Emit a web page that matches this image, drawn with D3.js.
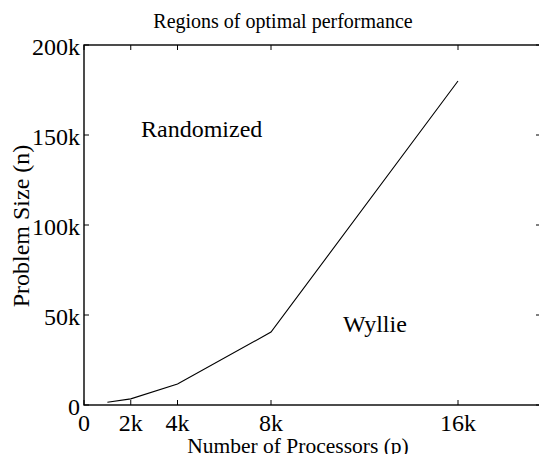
<!DOCTYPE html>
<html>
<head>
<meta charset="utf-8">
<script src="https://cdn.jsdelivr.net/npm/d3@7"></script>
<style>
  html, body { margin: 0; padding: 0; background: #fff; }
  svg { display: block; }
  text { font-family: "Liberation Serif", "Times New Roman", serif; fill: #000; }
</style>
</head>
<body>
<svg id="chart" width="539" height="454"></svg>
<script>
// Boundary between the two algorithms' regions of optimal performance
const processors = [1000, 2000, 4000, 8000, 16000];
const problemSize = [1500, 3400, 11700, 40500, 180000];

const xTickValues = [0, 2000, 4000, 8000, 16000];
const xTickLabels = ["0", "2k", "4k", "8k", "16k"];
const yTickValues = [0, 50000, 100000, 150000, 200000];
const yTickLabels = ["0", "50k", "100k", "150k", "200k"];

const titleText = "Regions of optimal performance";
const xLabelText = "Number of Processors (p)";
const yLabelText = "Problem Size (n)";
const regionLabels = [
  { text: "Randomized", p: 2440, n: 149000 },
  { text: "Wyllie", p: 11080, n: 40500 }
];

// Layout
const marginLeft = 84, marginTop = 45;
const plotW = 457, plotH = 360;
const tickLen = 5;

const svg = d3.select("#chart");
const g = svg.append("g").attr("transform", `translate(${marginLeft},${marginTop})`);

const x = d3.scaleLinear().domain([0, 16000]).range([0, 374]);
const y = d3.scaleLinear().domain([0, 200000]).range([plotH, 0]);

// Frame
g.append("rect")
  .attr("x", 0).attr("y", 0).attr("width", plotW).attr("height", plotH)
  .attr("fill", "none").attr("stroke", "#000").attr("stroke-width", 1.4);

// Inward ticks on all four sides
const tickG = g.append("g").attr("stroke", "#000").attr("stroke-width", 1);
xTickValues.forEach(v => {
  tickG.append("line").attr("x1", x(v)).attr("x2", x(v)).attr("y1", plotH).attr("y2", plotH - tickLen);
  tickG.append("line").attr("x1", x(v)).attr("x2", x(v)).attr("y1", 0).attr("y2", tickLen);
});
yTickValues.forEach(v => {
  tickG.append("line").attr("x1", 0).attr("x2", tickLen).attr("y1", y(v)).attr("y2", y(v));
  tickG.append("line").attr("x1", plotW).attr("x2", plotW - tickLen).attr("y1", y(v)).attr("y2", y(v));
});

// Tick labels
g.append("g").selectAll("text").data(xTickValues).join("text")
  .attr("x", d => x(d)).attr("y", plotH + 26)
  .attr("text-anchor", "middle").attr("font-size", 24)
  .text((d, i) => xTickLabels[i]);

g.append("g").selectAll("text").data(yTickValues).join("text")
  .attr("x", -4).attr("y", d => y(d) + 10)
  .attr("text-anchor", "end").attr("font-size", 24)
  .text((d, i) => yTickLabels[i]);

// Boundary curve
const line = d3.line().x(d => x(d[0])).y(d => y(d[1]));
g.append("path")
  .datum(processors.map((p, i) => [p, problemSize[i]]))
  .attr("d", line)
  .attr("fill", "none").attr("stroke", "#000").attr("stroke-width", 1.1);

// Region annotations
g.append("g").selectAll("text").data(regionLabels).join("text")
  .attr("x", d => x(d.p)).attr("y", d => y(d.n))
  .attr("font-size", 24)
  .text(d => d.text);

// Title and axis labels
svg.append("text")
  .attr("x", 283).attr("y", 28)
  .attr("text-anchor", "middle").attr("font-size", 20)
  .text(titleText);

svg.append("text")
  .attr("x", 298).attr("y", 453)
  .attr("text-anchor", "middle").attr("font-size", 21.5)
  .text(xLabelText);

svg.append("text")
  .attr("transform", "translate(29,226) rotate(-90)")
  .attr("text-anchor", "middle").attr("font-size", 24)
  .text(yLabelText);
</script>
</body>
</html>
